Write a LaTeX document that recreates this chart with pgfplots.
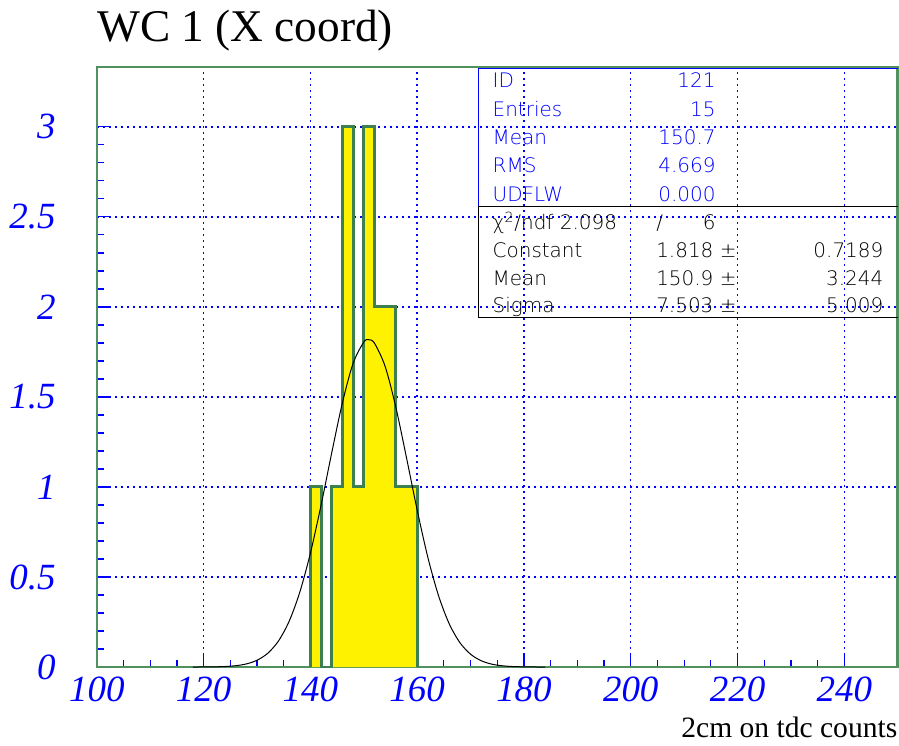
\documentclass[border=0pt]{standalone}
\usepackage{pgfplots}
\pgfplotsset{compat=1.18}
\usepackage{fontspec}
\setmainfont{Liberation Serif}
\newfontfamily\statfont{DejaVu Sans ExtraLight}
\definecolor{hgreen}{RGB}{60,128,80}
\definecolor{fgreen}{RGB}{80,145,95}
\begin{document}
\begin{tikzpicture}[st/.style={inner sep=0pt, font=\statfont\fontsize{10}{12}\selectfont}]
\begin{axis}[
  scale only axis, width=401pt, height=300.5pt,
  xmin=100, xmax=250, ymin=0, ymax=3.333,
  xtick={100,120,...,240}, ytick={0,0.5,1,1.5,2,2.5,3},
  minor x tick num=3, minor y tick num=4,
  tick align=inside, xtick pos=left, ytick pos=left,
  major tick length=6pt, minor tick length=3.5pt,
  tick style={blue, line width=0.6pt},
  xmajorgrids, ymajorgrids,
  major grid style={draw=blue, line width=0.7pt, dash pattern=on 1pt off 2pt},
  axis line style={fgreen, line width=1.3pt},
  scaled ticks=false,
  ticklabel style={font=\fontsize{18.5}{20}\selectfont\itshape, text=blue, inner sep=0pt},
  /pgf/number format/assume math mode=true,
  yticklabel style={anchor=east, xshift=-20.5pt},
  xticklabel style={anchor=north, yshift=-5pt},
]
\addplot[const plot, fill=yellow, draw=hgreen, line width=1.5pt] coordinates {
(140,0) (140,1) (142,0) (144,1) (146,3) (148,1) (150,3) (152,2) (154,2) (156,1) (158,1) (160,1) (160,0)
};
\addplot[black, line width=0.5pt, smooth] coordinates {
(118,0.0001) (120,0.0004) (122,0.0011) (124,0.0029) (126,0.0074) (128,0.0173) (130,0.0376)
(132,0.0762) (134,0.1438) (136,0.2531) (138,0.4147) (140,0.6329) (142,0.8996)
(144,1.191) (146,1.4688) (148,1.687) (150,1.805) (150.9,1.818) (152,1.7986)
(154,1.6693) (156,1.4429) (158,1.1619) (160,0.8714) (162,0.6087) (164,0.3960)
(166,0.2400) (168,0.1354) (170,0.0712) (172,0.0349) (174,0.0159) (176,0.0068)
(178,0.0027) (180,0.0010) (182,0.0003) (184,0.0001)
};
\coordinate (tl) at (rel axis cs:0,1);
\coordinate (ll) at (rel axis cs:0,0);
\coordinate (ur) at (rel axis cs:1,1);
\coordinate (lr) at (rel axis cs:1,0);
\end{axis}
\path[use as bounding box] ([shift={(-48.5pt,-39.5pt)}]ll) rectangle ([shift={(0pt,33.5pt)}]ur);
\node[anchor=base west, inner sep=0pt, font=\fontsize{22.7}{24}\selectfont] at ([shift={(0pt,12.5pt)}]tl) {WC 1 (X coord)};
\node[anchor=base east, inner sep=0pt, font=\fontsize{14.8}{16}\selectfont] at ([shift={(0pt,-35.5pt)}]lr) {2cm on tdc counts};
% stats box
\draw[blue, line width=0.6pt] ([shift={(191pt,-69.75pt)}]tl) -- ([shift={(191pt,-0.9pt)}]tl) -- ([shift={(401pt,-0.9pt)}]tl);
\draw[black, line width=0.6pt] ([shift={(401pt,-69.75pt)}]tl) -- ([shift={(191pt,-69.75pt)}]tl) -- ([shift={(191pt,-125.5pt)}]tl) -- ([shift={(401pt,-125.5pt)}]tl);
\begin{scope}[every node/.append style={text=blue}]
\node[st, anchor=base west] at ([shift={(198pt,-10.5pt)}]tl) {ID};
\node[st, anchor=base east] at ([shift={(310pt,-10.5pt)}]tl) {121};
\node[st, anchor=base west] at ([shift={(198pt,-25pt)}]tl) {Entries};
\node[st, anchor=base east] at ([shift={(310pt,-25pt)}]tl) {15};
\node[st, anchor=base west] at ([shift={(198pt,-39pt)}]tl) {Mean};
\node[st, anchor=base east] at ([shift={(310pt,-39pt)}]tl) {150.7};
\node[st, anchor=base west] at ([shift={(198pt,-53pt)}]tl) {RMS};
\node[st, anchor=base east] at ([shift={(310pt,-53pt)}]tl) {4.669};
\node[st, anchor=base west] at ([shift={(198pt,-67.5pt)}]tl) {UDFLW};
\node[st, anchor=base east] at ([shift={(310pt,-67.5pt)}]tl) {0.000};
\end{scope}
\node[st, anchor=base west] at ([shift={(198pt,-81.5pt)}]tl) {χ\textsuperscript{2}/ndf 2.098};
\node[st, anchor=base west] at ([shift={(280pt,-81.5pt)}]tl) {/};
\node[st, anchor=base east] at ([shift={(310pt,-81.5pt)}]tl) {6};
\node[st, anchor=base west] at ([shift={(198pt,-95.5pt)}]tl) {Constant};
\node[st, anchor=base east] at ([shift={(320.5pt,-95.5pt)}]tl) {1.818 ±};
\node[st, anchor=base east] at ([shift={(394pt,-95.5pt)}]tl) {0.7189};
\node[st, anchor=base west] at ([shift={(198pt,-109.5pt)}]tl) {Mean};
\node[st, anchor=base east] at ([shift={(320.5pt,-109.5pt)}]tl) {150.9 ±};
\node[st, anchor=base east] at ([shift={(394pt,-109.5pt)}]tl) {3.244};
\node[st, anchor=base west] at ([shift={(198pt,-123pt)}]tl) {Sigma};
\node[st, anchor=base east] at ([shift={(320.5pt,-123pt)}]tl) {7.503 ±};
\node[st, anchor=base east] at ([shift={(394pt,-123pt)}]tl) {5.009};
\end{tikzpicture}
\end{document}
